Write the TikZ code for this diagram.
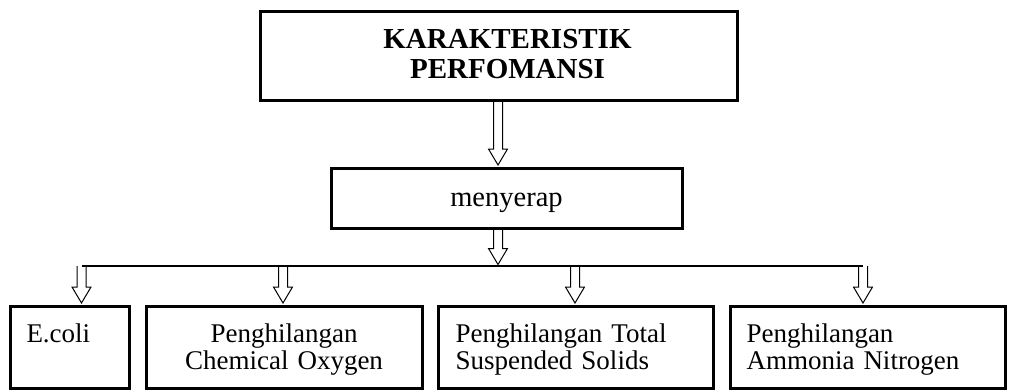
\documentclass[tikz,border=0pt]{standalone}
\usepackage{fontspec}
\setmainfont{Liberation Serif}
\usetikzlibrary{calc}
\tikzset{
  box/.style={draw, line width=3pt, inner sep=0pt, anchor=north west},
  kid/.style={box, minimum height=82pt, align=left, text height=36.5pt, text depth=45.5pt,
              font=\fontsize{27}{26.5}\selectfont},
  busline/.style={draw, line width=1.1pt},
  blockarr/.style={draw, line width=1pt, line join=miter},
}
\newcommand{\blockarrow}[2]{%
  \draw[blockarr] let \p1=(#1), \p2=(#2) in
    (\x1-4.5pt,\y1) -- (\x1-4.5pt,\y2+17.5pt) -- (\x1-9.5pt,\y2+17.5pt) --
    (\x1,\y2+1.5pt) -- (\x1+9.5pt,\y2+17.5pt) -- (\x1+4.5pt,\y2+17.5pt) -- (\x1+4.5pt,\y1);}
\begin{document}
\begin{tikzpicture}[x=1pt,y=-1pt]
  \useasboundingbox (0,0) rectangle (1009,391);
  % boxes
  \node[box, minimum width=477pt, minimum height=89pt, align=center,
        text height=67.5pt, text depth=21.5pt,
        font=\fontsize{29}{30}\selectfont\bfseries] (top) at (258.5,9.5)
        {\hspace*{18pt}KARAKTERISTIK\\\hspace*{18pt}PERFOMANSI};
  \node[box, minimum width=351pt, minimum height=60pt, text height=38.5pt, text depth=21.5pt,
        font=\fontsize{28.5}{30}\selectfont] (mid) at (329.5,166.5) {menyerap};
  \node[kid, minimum width=119pt, text width=86pt, inner xsep=16.5pt] (ecoli) at (8.5,304.5)
        {E.coli};
  \node[kid, minimum width=276pt, text width=260pt, inner xsep=8pt, align=center] (cod) at (144.5,304.5)
        {Penghilangan\\Chemical Oxygen};
  \node[kid, minimum width=275pt, text width=240pt, inner xsep=17.5pt] (tss) at (436.5,304.5)
        {Penghilangan Total\\Suspended Solids};
  \node[kid, minimum width=275pt, text width=242pt, inner xsep=16.5pt] (amn) at (728.5,304.5)
        {Penghilangan\\Ammonia Nitrogen};
  % bus coordinates
  \coordinate (bus) at (498,266);
  \coordinate (a1) at (81.5,266);
  \coordinate (a2) at (283,266);
  \coordinate (a3) at (575,266);
  \coordinate (a4) at (863,266);
  % connectors
  \blockarrow{bus |- top.south}{bus |- mid.north}
  \blockarrow{bus |- mid.south}{bus}
  \draw[busline] (a1) -- (a4);
  \blockarrow{a1}{a1 |- ecoli.north}
  \blockarrow{a2}{a2 |- cod.north}
  \blockarrow{a3}{a3 |- tss.north}
  \blockarrow{a4}{a4 |- amn.north}
\end{tikzpicture}
\end{document}
